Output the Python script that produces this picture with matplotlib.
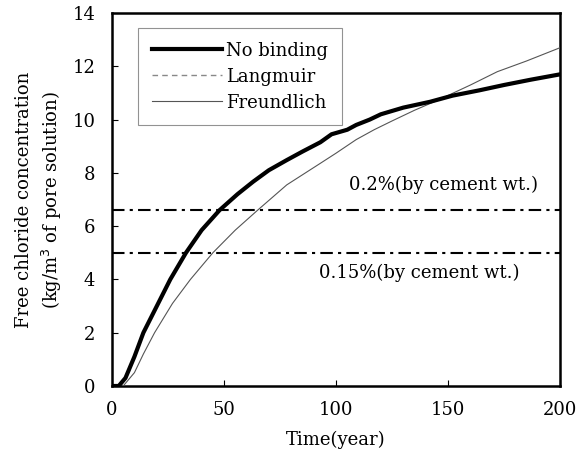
import matplotlib
import matplotlib.pyplot as plt
import numpy as np

matplotlib.use("Agg")

plt.rcParams["font.family"] = ["DejaVu Serif"]

# Free chloride concentration (kg/m3 of pore solution) vs time (year)
t_nobind = [0, 3, 6, 10, 14, 20, 26, 33, 40, 48, 56, 63, 70, 78, 85, 93, 98,
            105, 109, 115, 120, 130, 142, 152, 164, 175, 187, 200]
c_nobind = [0.0, 0.0, 0.3, 1.1, 2.0, 3.0, 4.0, 5.0, 5.85, 6.6, 7.2, 7.67,
            8.1, 8.48, 8.8, 9.15, 9.45, 9.62, 9.8, 10.0, 10.2, 10.45, 10.67,
            10.9, 11.1, 11.3, 11.5, 11.7]

t_langmuir = list(t_nobind)
c_langmuir = list(c_nobind)

t_freund = [0, 5, 10, 14, 19, 27, 35, 45, 55, 65, 78, 93, 100, 109, 117, 125,
            135, 146, 160, 172, 185, 200]
c_freund = [0.0, 0.0, 0.5, 1.2, 2.0, 3.1, 4.0, 5.0, 5.85, 6.6, 7.55, 8.36,
            8.74, 9.25, 9.62, 9.95, 10.35, 10.75, 11.3, 11.8, 12.2, 12.7]

# chloride threshold levels
threshold_levels = [6.6, 5.0]
threshold_labels = ["0.2%(by cement wt.)", "0.15%(by cement wt.)"]
threshold_text_y = [7.55, 4.25]
threshold_text_x = [148, 137]

fig = plt.figure(figsize=(5.88, 4.57), dpi=100)
ax = fig.add_axes([0.1905, 0.1554, 0.762, 0.816])

ax.plot(t_langmuir, c_langmuir, color="#888888", linestyle=(0, (4, 3)),
        linewidth=1.0, label="Langmuir", zorder=2)
ax.plot(t_freund, c_freund, color="#555555", linewidth=0.8,
        label="Freundlich", zorder=3)
ax.plot(t_nobind, c_nobind, color="black", linewidth=3.0,
        label="No binding", zorder=4, solid_joinstyle="round")

for level, text, tx, ty in zip(threshold_levels, threshold_labels,
                               threshold_text_x, threshold_text_y):
    ax.axhline(level, color="black", linewidth=1.5,
               linestyle=(0, (6, 2.5, 1.5, 2.5)), zorder=1)
    ax.text(tx, ty, text, ha="center", va="center", fontsize=13)

ax.set_xlim(0, 200)
ax.set_ylim(0, 14)
ax.set_xticks([0, 50, 100, 150, 200])
ax.set_yticks(np.arange(0, 15, 2))
ax.tick_params(direction="in", length=4, width=0.8, labelsize=13)
ax.tick_params(axis="x", pad=11)
ax.tick_params(axis="y", pad=12)
for side in ax.spines.values():
    side.set_linewidth(1.8)

ax.set_xlabel("Time(year)", fontsize=13, labelpad=8)
ax.set_ylabel("Free chloride concentration\n(kg/m$^3$ of pore solution)",
              fontsize=13, labelpad=6, linespacing=1.4)

handles, labels = ax.get_legend_handles_labels()
order = [2, 0, 1]
leg = ax.legend([handles[i] for i in order], [labels[i] for i in order],
                loc="upper left", bbox_to_anchor=(0.058, 0.96), fontsize=13,
                frameon=True, fancybox=False, handlelength=3.9,
                handletextpad=0.25, borderpad=0.75, labelspacing=0.45,
                borderaxespad=0)
leg.get_frame().set_edgecolor("#777777")
leg.get_frame().set_linewidth(0.8)

fig.savefig("out.png", dpi=100)
plt.close(fig)
